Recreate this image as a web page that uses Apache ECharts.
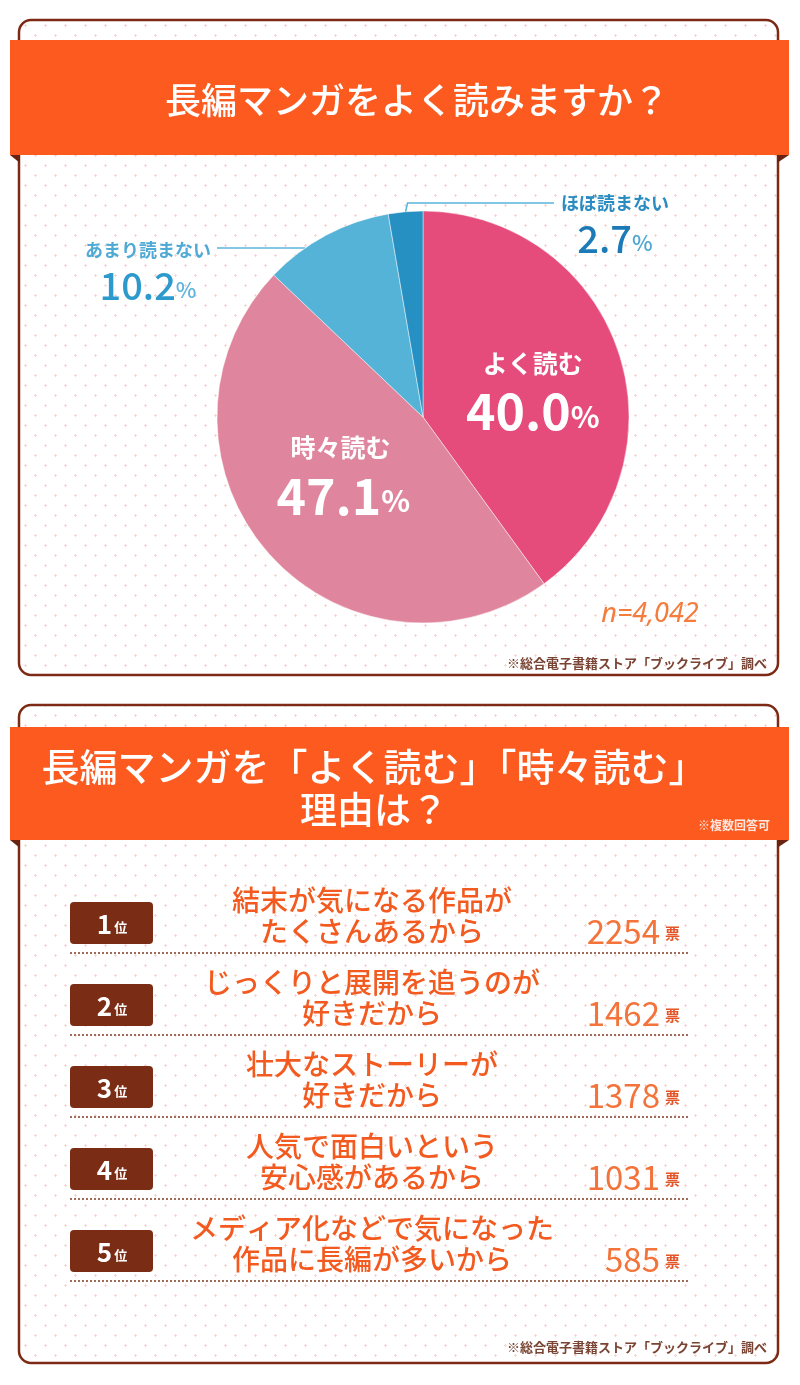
<!DOCTYPE html>
<html><head><meta charset="utf-8">
<script src="https://cdn.jsdelivr.net/npm/echarts@6/dist/echarts.min.js"></script>
<style>html,body{margin:0;padding:0;background:#fff}#c{width:800px;height:1385px}</style>
</head><body><div id="c"></div>
<script>
// ---------- data ----------
const title1 = '長編マンガをよく読みますか？';
const pieNames = ['よく読む', '時々読む', 'あまり読まない', 'ほぼ読まない'];
const pieValues = [40.0, 47.1, 10.2, 2.7];
const sampleSize = 'n=4,042';
const sourceNote = '※総合電子書籍ストア「ブックライブ」調べ';
const title2Line1 = '長編マンガを「よく読む」「時々読む」';
const title2Line2 = '理由は？';
const multiNote = '※複数回答可';
const ranks = ['1', '2', '3', '4', '5'];
const reasonLine1 = ['結末が気になる作品が', 'じっくりと展開を追うのが', '壮大なストーリーが', '人気で面白いという', 'メディア化などで気になった'];
const reasonLine2 = ['たくさんあるから', '好きだから', '好きだから', '安心感があるから', '作品に長編が多いから'];
const voteCounts = [2254, 1462, 1378, 1031, 585];
const voteUnit = '票';

// ---------- style ----------
const JP = '"Noto Sans CJK JP", "Noto Sans", sans-serif';
const ORANGE = '#FC5A1F';
const FRAME = '#7D2A14';
const pieColors = ['#E54B7B', '#E0859E', '#56B3D8', '#2790C2'];
const PIE_CX = 423, PIE_CY = 417, PIE_R = 206;

// dot pattern
const tile = document.createElement('canvas');
tile.width = 20; tile.height = 20;
(function () {
  const g = tile.getContext('2d');
  g.fillStyle = '#ffffff'; g.fillRect(0, 0, 20, 20);
  g.fillStyle = '#F8D6CF';
  [[5, 5], [15, 15]].forEach(([x, y]) => {
    g.fillRect(x - 1, y, 3, 1); g.fillRect(x, y - 1, 1, 3);
  });
})();
const pattern = { image: tile, repeat: 'repeat' };

const chart = echarts.init(document.getElementById('c'), null, { renderer: 'canvas' });

function pieLabel(i) {
  const v = pieValues[i].toFixed(1);
  if (i === 0) {
    return {
      position: 'inside',
      formatter: '{n|' + pieNames[i] + '}\n{v|' + v + '}{p|%}',
      rich: {
        n: { fontFamily: JP, fontSize: 25, fontWeight: 'bold', color: '#fff', lineHeight: 42 },
        v: { fontFamily: JP, fontSize: 50, fontWeight: 'bold', color: '#fff', lineHeight: 54 },
        p: { fontFamily: JP, fontSize: 30, fontWeight: 'bold', color: '#fff', lineHeight: 54, padding: [10, 0, 0, 0] }
      }
    };
  }
  if (i === 1) {
    return {
      position: 'inside',
      formatter: '{n|' + pieNames[i] + '}\n{v|' + v + '}{p|%}',
      rich: {
        n: { fontFamily: JP, fontSize: 25, fontWeight: 'bold', color: '#fff', lineHeight: 42, align: 'left', padding: [0, 0, 0, 14] },
        v: { fontFamily: JP, fontSize: 50, fontWeight: 'bold', color: '#fff', lineHeight: 54, align: 'left' },
        p: { fontFamily: JP, fontSize: 30, fontWeight: 'bold', color: '#fff', lineHeight: 54, align: 'left', padding: [10, 0, 0, 0] }
      }
    };
  }
  const dark = i === 3;
  return {
    position: 'outside',
    formatter: '{n|' + pieNames[i] + '}\n{v|' + v + '}{p|%}',
    rich: {
      n: { fontFamily: JP, fontSize: 18, fontWeight: 'bold', color: dark ? '#2A8CC0' : '#4FAAD6', lineHeight: 30 },
      v: { fontFamily: JP, fontSize: 38, fontWeight: 500, color: dark ? '#1C7BB6' : '#2D9ACD', lineHeight: 42 },
      p: { fontFamily: JP, fontSize: 22, fontWeight: 500, color: dark ? '#4AA6D3' : '#5DB3DD', lineHeight: 42, padding: [8, 0, 0, 0] }
    }
  };
}

const option = {
  backgroundColor: '#fff',
  animation: false,
  grid: { left: 70, right: 110, top: 882, height: 410, show: false },
  xAxis: { type: 'value', min: 0, max: 2500, show: false },
  yAxis: { type: 'category', data: ranks, inverse: true, show: false },
  graphic: [
    // top panel
    { type: 'rect', z: -10, shape: { x: 19, y: 20, width: 759, height: 655, r: 12 }, style: { fill: pattern, stroke: FRAME, lineWidth: 2.5 } },
    { type: 'polygon', z: -9, shape: { points: [[10, 155], [20, 155], [20, 163]] }, style: { fill: '#6A2310' } },
    { type: 'polygon', z: -9, shape: { points: [[789, 155], [777, 155], [777, 163]] }, style: { fill: '#6A2310' } },
    { type: 'rect', z: -8, shape: { x: 10, y: 40, width: 779, height: 115 }, style: { fill: ORANGE } },
    { type: 'text', z: 10, x: 417, y: 100, style: { text: title1, font: '500 36px ' + JP, fill: '#fff', align: 'center', verticalAlign: 'middle' } },
    { type: 'text', z: 10, x: 650, y: 614, style: { text: sampleSize, font: 'italic 27px "Noto Sans", sans-serif', fill: '#F47C3C', align: 'center', verticalAlign: 'middle' } },
    { type: 'text', z: 10, x: 767, y: 663, style: { text: sourceNote, font: 'bold 13px ' + JP, fill: '#7A4434', align: 'right', verticalAlign: 'middle' } },
    // bottom panel
    { type: 'rect', z: -10, shape: { x: 19, y: 705, width: 759, height: 658, r: 12 }, style: { fill: pattern, stroke: FRAME, lineWidth: 2.5 } },
    { type: 'polygon', z: -9, shape: { points: [[10, 840], [20, 840], [20, 848]] }, style: { fill: '#6A2310' } },
    { type: 'polygon', z: -9, shape: { points: [[789, 840], [777, 840], [777, 848]] }, style: { fill: '#6A2310' } },
    { type: 'rect', z: -8, shape: { x: 10, y: 727, width: 779, height: 113 }, style: { fill: ORANGE } },
    { type: 'text', z: 10, x: 374, y: 767, style: { text: title2Line1, font: '500 38px ' + JP, fill: '#fff', align: 'center', verticalAlign: 'middle' } },
    { type: 'text', z: 10, x: 374, y: 810, style: { text: title2Line2, font: '500 37px ' + JP, fill: '#fff', align: 'center', verticalAlign: 'middle' } },
    { type: 'text', z: 10, x: 770, y: 825, style: { text: multiNote, font: 'bold 12px ' + JP, fill: 'rgba(255,255,255,0.85)', align: 'right', verticalAlign: 'middle' } },
    { type: 'text', z: 10, x: 767, y: 1347, style: { text: sourceNote, font: 'bold 13px ' + JP, fill: '#7A4434', align: 'right', verticalAlign: 'middle' } }
  ],
  series: [
    {
      type: 'pie',
      center: [PIE_CX, PIE_CY],
      radius: PIE_R,
      startAngle: 90,
      clockwise: true,
      avoidLabelOverlap: false,
      silent: true,
      itemStyle: { borderColor: 'rgba(255,255,255,0.45)', borderWidth: 1 },
      data: pieNames.map((n, i) => ({
        name: n,
        value: pieValues[i],
        itemStyle: { color: pieColors[i] },
        label: pieLabel(i),
        labelLine: { show: i >= 2, length: 10, length2: 40, lineStyle: { color: '#5AB4DB', width: 1.5 } }
      })),
      labelLayout: function (p) {
        const i = p.dataIndex;
        if (i === 0) return { dx: 9, dy: 6 };
        if (i === 1) return { dx: 0, dy: -12 };
        if (i === 3) {
          const x = 615, top = 188, lineY = 203;
          const p0 = (p.labelLinePoints && p.labelLinePoints[0]) || [405, 212];
          const endX = x - p.labelRect.width / 2 - 7;
          return { x: x, y: top, align: 'center', verticalAlign: 'top',
            labelLinePoints: [p0, [p0[0] + 2, lineY], [endX, lineY]] };
        }
        if (i === 2) {
          const x = 148, top = 235, lineY = 248;
          const startX = PIE_CX - Math.sqrt(PIE_R * PIE_R - (lineY - PIE_CY) * (lineY - PIE_CY));
          const endX = x + p.labelRect.width / 2 + 6;
          return { x: x, y: top, align: 'center', verticalAlign: 'top',
            labelLinePoints: [[startX, lineY], [endX, lineY]] };
        }
      }
    },
    {
      type: 'custom',
      coordinateSystem: 'cartesian2d',
      silent: true,
      data: voteCounts.map((v, i) => [v, i]),
      renderItem: function (params, api) {
        const idx = api.value(1);
        const cy = api.coord([0, idx])[1];
        const cs = params.coordSys;
        const L = cs.x, R = cs.x + cs.width;
        return {
          type: 'group',
          children: [
            { type: 'rect', shape: { x: L, y: cy - 21, width: 83, height: 42, r: 4 }, style: { fill: '#7A2C14' } },
            { type: 'text', x: L + 42, y: cy + 1, style: {
              text: '{n|' + ranks[idx] + '}{u|位}', align: 'center', verticalAlign: 'middle',
              rich: {
                n: { fontFamily: JP, fontSize: 26, fontWeight: 'bold', fill: '#fff', lineHeight: 30 },
                u: { fontFamily: JP, fontSize: 13, fontWeight: 'bold', fill: '#fff', lineHeight: 30, padding: [6, 0, 0, 2] }
              } } },
            { type: 'text', x: L + 302, y: cy - 7, style: {
              text: reasonLine1[idx] + '\n' + reasonLine2[idx], font: '500 28px ' + JP, lineHeight: 31,
              fill: '#F25A20', align: 'center', verticalAlign: 'middle' } },
            { type: 'text', x: L + 590, y: cy + 8, style: {
              text: String(api.value(0)), font: '400 33px ' + JP, fill: '#F4733A', align: 'right', verticalAlign: 'middle' } },
            { type: 'text', x: L + 595, y: cy + 10, style: {
              text: voteUnit, font: 'bold 15px ' + JP, fill: '#E4552A', align: 'left', verticalAlign: 'middle' } },
            { type: 'line', shape: { x1: L, y1: cy + 30, x2: R, y2: cy + 30 }, style: { stroke: '#A06B58', lineWidth: 2, lineDash: [2, 2] } }
          ]
        };
      }
    }
  ]
};
chart.setOption(option);
</script>
</body></html>
